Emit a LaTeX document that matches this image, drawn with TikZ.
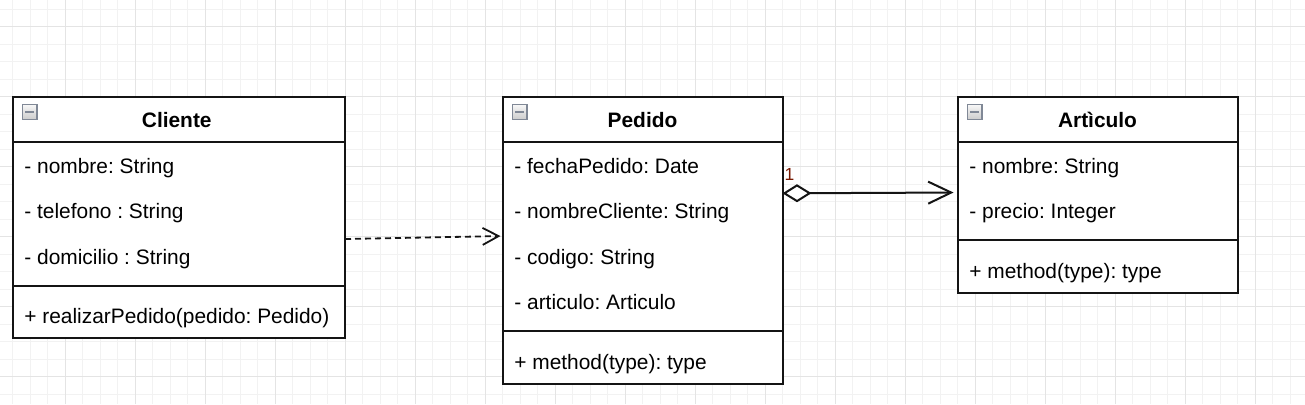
\documentclass[tikz,border=0pt]{standalone}
\usepackage{fontspec}
\setmainfont{Liberation Sans}
\usepackage{xcolor}
\usepackage{tikz}
\usetikzlibrary{arrows.meta,positioning}
\definecolor{gridminor}{RGB}{242,242,242}
\definecolor{gridmajor}{RGB}{228,228,228}
\definecolor{umlblack}{RGB}{20,20,20}
\definecolor{iconedge}{RGB}{128,136,150}
\definecolor{multred}{RGB}{120,24,0}
\frenchspacing

\begin{document}
\begin{tikzpicture}[x=0.5pt,y=-0.5pt,
  classbox/.style={draw=umlblack,line width=1pt,fill=white,inner sep=0pt,outer sep=0pt,anchor=north west},
  classname/.style={font=\fontsize{10.45}{12}\selectfont\bfseries,inner sep=0pt,anchor=base},
  member/.style={font=\fontsize{10.45}{12}\selectfont,inner sep=0pt,anchor=base west},
  sepline/.style={draw=umlblack,line width=1pt},
  collapse/.style={draw=iconedge,line width=0.6pt,top color=gray!6,bottom color=gray!40,
    minimum size=7.3pt,inner sep=0pt,anchor=north west,
    path picture={\draw[line width=1.4pt] ([xshift=-2.1pt]path picture bounding box.center)
      -- ([xshift=2.1pt]path picture bounding box.center);}},
  depends/.style={draw=umlblack,line width=0.9pt,dash pattern=on 3pt off 2pt,
    -{Straight Barb[length=8pt,width=8.5pt]},shorten >=1pt},
  aggregates/.style={draw=umlblack,line width=1pt,
    {Diamond[fill=white,length=14.5pt,width=9pt]}-{Straight Barb[length=11.5pt,width=11pt]},shorten >=2pt},
  multiplicity/.style={font=\fontsize{8.75}{10}\selectfont,text=multred,inner sep=0pt,anchor=base west}]
  \fill[white] (0,0) rectangle (1305,404);
  \useasboundingbox (0,0) rectangle (1305,404);
  \draw[gridminor,line width=0.5pt,step=8.75pt,shift={(12.5,9.2)}] (-12.5,394.8) grid (1292.5,-9.2);
  \draw[gridmajor,line width=0.5pt,step=35pt,shift={(65,26.7)}] (-65,377.3) grid (1240,-26.7);

  % Cliente
  \node[classbox,minimum width=166.25pt,minimum height=120.75pt] (cliente) at (12.5,96.7) {};
  \node[collapse] (cliente-icon) at ([shift={(9.2,7.3)}]cliente.north west) {};
  \node[classname] (cliente-name) at ([shift={(-2,31)}]cliente.north) {Cliente};
  \draw[sepline] ([shift={(0,45.5)}]cliente.north west) -- ([shift={(0,45.5)}]cliente.north east);
  \node[member] (cliente-nombre) at ([shift={(11.5,76.5)}]cliente.north west) {- nombre: String};
  \node[member] (cliente-telefono) at ([shift={(11.5,122)}]cliente.north west) {- telefono : String};
  \node[member] (cliente-domicilio) at ([shift={(11.5,167.5)}]cliente.north west) {- domicilio : String};
  \draw[sepline] ([shift={(0,189)}]cliente.north west) -- ([shift={(0,189)}]cliente.north east);
  \node[member] (cliente-realizar) at ([shift={(11.5,227)}]cliente.north west) {+ realizarPedido(pedido: Pedido)};

  % Pedido
  \node[classbox,minimum width=140pt,minimum height=143.5pt,
        right=78.75pt of cliente.north east,anchor=north west] (pedido) {};
  \node[collapse] (pedido-icon) at ([shift={(9.2,7.3)}]pedido.north west) {};
  \node[classname] (pedido-name) at ([shift={(0,31)}]pedido.north) {Pedido};
  \draw[sepline] ([shift={(0,45.5)}]pedido.north west) -- ([shift={(0,45.5)}]pedido.north east);
  \node[member] (pedido-fecha) at ([shift={(11.5,76.5)}]pedido.north west) {- fechaPedido: Date};
  \node[member] (pedido-cliente) at ([shift={(11.5,122)}]pedido.north west) {- nombreCliente: String};
  \node[member] (pedido-codigo) at ([shift={(11.5,167.5)}]pedido.north west) {- codigo: String};
  \node[member] (pedido-articulo) at ([shift={(11.5,213)}]pedido.north west) {- articulo: Articulo};
  \draw[sepline] ([shift={(0,234.5)}]pedido.north west) -- ([shift={(0,234.5)}]pedido.north east);
  \node[member] (pedido-method) at ([shift={(11.5,272.5)}]pedido.north west) {+ method(type): type};

  % Articulo
  \node[classbox,minimum width=140pt,minimum height=98pt,
        right=87.5pt of pedido.north east,anchor=north west] (articulo) {};
  \node[collapse] (articulo-icon) at ([shift={(9.2,7.3)}]articulo.north west) {};
  \node[classname] (articulo-name) at ([shift={(0,31)}]articulo.north) {Artìculo};
  \draw[sepline] ([shift={(0,45.5)}]articulo.north west) -- ([shift={(0,45.5)}]articulo.north east);
  \node[member] (articulo-nombre) at ([shift={(11.5,76.5)}]articulo.north west) {- nombre: String};
  \node[member] (articulo-precio) at ([shift={(11.5,122)}]articulo.north west) {- precio: Integer};
  \draw[sepline] ([shift={(0,143.5)}]articulo.north west) -- ([shift={(0,143.5)}]articulo.north east);
  \node[member] (articulo-method) at ([shift={(11.5,181.5)}]articulo.north west) {+ method(type): type};

  % Relaciones
  \draw[depends] ([shift={(0,142.3)}]cliente.north east) -- ([shift={(0,139.3)}]pedido.north west);
  \draw[aggregates] ([shift={(0,96.6)}]pedido.north east) -- ([shift={(0,95.8)}]articulo.north west)
    node[pos=0,multiplicity,shift={(1,-13)}] (pedido-mult) {1};
\end{tikzpicture}
\end{document}
